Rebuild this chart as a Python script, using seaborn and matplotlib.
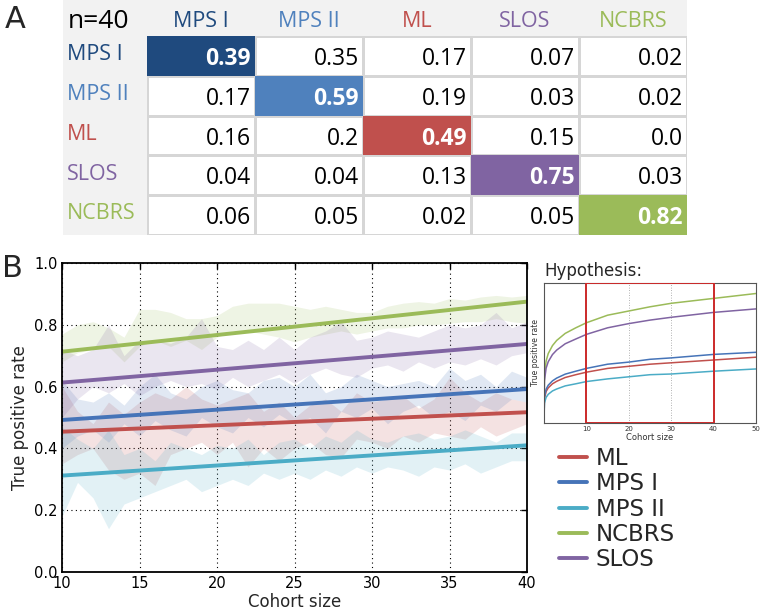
import numpy as np
import pandas as pd
import matplotlib
matplotlib.use('Agg')
import matplotlib.pyplot as plt
from matplotlib.colors import ListedColormap
import seaborn as sns

# panel A: confusion table
classes = ['MPS I', 'MPS II', 'ML', 'SLOS', 'NCBRS']
confusion = [
    [0.39, 0.35, 0.17, 0.07, 0.02],
    [0.17, 0.59, 0.19, 0.03, 0.02],
    [0.16, 0.2, 0.49, 0.15, 0.0],
    [0.04, 0.04, 0.13, 0.75, 0.03],
    [0.06, 0.05, 0.02, 0.05, 0.82],
]
n_label = 'n=40'
table_colors = {'MPS I': '#1f4a7e', 'MPS II': '#4f81bd', 'ML': '#c0504d',
                'SLOS': '#8064a2', 'NCBRS': '#9bbb59'}

# panel B: true positive rate vs cohort size
legend_order = ['ML', 'MPS I', 'MPS II', 'NCBRS', 'SLOS']
line_colors = {'ML': '#c0504d', 'MPS I': '#4674b8', 'MPS II': '#4bacc6',
               'NCBRS': '#9bbb59', 'SLOS': '#8064a2'}
cohort = list(range(10, 41))
band_high = {
    'NCBRS': [0.77, 0.80, 0.81, 0.79, 0.76, 0.85, 0.85, 0.84, 0.82, 0.82, 0.83, 0.86, 0.87, 0.87, 0.87, 0.86,
              0.85, 0.86, 0.85, 0.84, 0.84, 0.86, 0.87, 0.875, 0.87, 0.885, 0.88, 0.89, 0.895, 0.89, 0.895],
    'SLOS': [0.72, 0.70, 0.72, 0.80, 0.70, 0.75, 0.75, 0.74, 0.76, 0.82, 0.73, 0.72, 0.75, 0.72, 0.76, 0.72,
             0.76, 0.78, 0.81, 0.75, 0.76, 0.78, 0.77, 0.76, 0.78, 0.80, 0.79, 0.80, 0.84, 0.79, 0.81],
    'MPS I': [0.62, 0.56, 0.55, 0.58, 0.54, 0.60, 0.64, 0.58, 0.56, 0.60, 0.62, 0.59, 0.58, 0.62, 0.63, 0.60,
              0.64, 0.58, 0.60, 0.64, 0.62, 0.60, 0.61, 0.62, 0.60, 0.66, 0.62, 0.64, 0.60, 0.65, 0.63],
    'ML': [0.60, 0.52, 0.48, 0.55, 0.51, 0.55, 0.58, 0.56, 0.60, 0.56, 0.54, 0.56, 0.58, 0.52, 0.55, 0.50,
           0.54, 0.56, 0.52, 0.58, 0.55, 0.56, 0.57, 0.53, 0.56, 0.63, 0.58, 0.55, 0.58, 0.56, 0.55],
    'MPS II': [0.47, 0.43, 0.40, 0.46, 0.38, 0.40, 0.36, 0.42, 0.40, 0.38, 0.41, 0.40, 0.43, 0.38, 0.42, 0.43,
               0.40, 0.44, 0.42, 0.46, 0.43, 0.42, 0.44, 0.45, 0.43, 0.44, 0.46, 0.44, 0.42, 0.45, 0.45],
}
band_low = {
    'NCBRS': [0.68, 0.71, 0.72, 0.73, 0.68, 0.73, 0.75, 0.73, 0.75, 0.72, 0.76, 0.78, 0.78, 0.77, 0.76, 0.745,
              0.76, 0.77, 0.78, 0.77, 0.78, 0.79, 0.79, 0.80, 0.80, 0.805, 0.81, 0.81, 0.82, 0.81, 0.805],
    'SLOS': [0.50, 0.56, 0.60, 0.58, 0.61, 0.57, 0.60, 0.62, 0.60, 0.61, 0.59, 0.63, 0.60, 0.62, 0.64, 0.61,
             0.64, 0.66, 0.64, 0.63, 0.66, 0.67, 0.65, 0.68, 0.66, 0.68, 0.67, 0.69, 0.67, 0.70, 0.71],
    'MPS I': [0.40, 0.44, 0.46, 0.42, 0.48, 0.44, 0.49, 0.46, 0.44, 0.50, 0.47, 0.45, 0.50, 0.47, 0.51, 0.48,
              0.50, 0.45, 0.52, 0.50, 0.53, 0.48, 0.52, 0.54, 0.50, 0.52, 0.49, 0.54, 0.52, 0.56, 0.55],
    'ML': [0.35, 0.38, 0.40, 0.33, 0.30, 0.32, 0.28, 0.38, 0.40, 0.42, 0.38, 0.42, 0.34, 0.40, 0.36, 0.40,
           0.42, 0.38, 0.37, 0.43, 0.42, 0.40, 0.44, 0.42, 0.45, 0.44, 0.43, 0.47, 0.44, 0.46, 0.48],
    'MPS II': [0.18, 0.29, 0.24, 0.14, 0.22, 0.24, 0.26, 0.28, 0.30, 0.26, 0.28, 0.30, 0.28, 0.32, 0.30, 0.32,
               0.30, 0.33, 0.31, 0.34, 0.32, 0.34, 0.33, 0.31, 0.34, 0.33, 0.35, 0.32, 0.34, 0.36, 0.36],
}
fit_x = [10, 40]
fit_y = {'ML': [0.454, 0.517], 'MPS I': [0.492, 0.592], 'MPS II': [0.312, 0.41],
         'NCBRS': [0.713, 0.875], 'SLOS': [0.613, 0.738]}

# hypothesis inset curves
hyp_x = [0, 0.1, 0.5, 1, 2, 3, 5, 7.5, 10, 15, 20, 25, 30, 40, 50]
hyp_y = {
    'NCBRS': [0, 0.34, 0.443, 0.496, 0.553, 0.59, 0.64, 0.68, 0.716, 0.77, 0.80, 0.83, 0.855, 0.89, 0.925],
    'SLOS': [0, 0.30, 0.392, 0.438, 0.489, 0.521, 0.566, 0.60, 0.633, 0.68, 0.71, 0.735, 0.755, 0.79, 0.815],
    'MPS I': [0, 0.187, 0.242, 0.27, 0.301, 0.321, 0.349, 0.37, 0.39, 0.42, 0.435, 0.455, 0.465, 0.49, 0.505],
    'ML': [0, 0.174, 0.225, 0.251, 0.28, 0.298, 0.325, 0.345, 0.363, 0.39, 0.405, 0.42, 0.43, 0.45, 0.47],
    'MPS II': [0, 0.142, 0.183, 0.205, 0.229, 0.243, 0.265, 0.28, 0.296, 0.315, 0.33, 0.345, 0.35, 0.37, 0.386],
}
hyp_window = [10, 40]

sns.set_style('white')
W, H = 761, 613
fig = plt.figure(figsize=(W / 100, H / 100), dpi=100)

# ---- panel A ----
bg = fig.add_axes([63 / W, 1 - 235 / H, 624 / W, 235 / H])
bg.set_facecolor('#f2f2f2')
bg.set_xticks([])
bg.set_yticks([])
for s in bg.spines.values():
    s.set_visible(False)

ax_t = fig.add_axes([147 / W, 1 - 235 / H, 540 / W, 199 / H])
conf = np.array(confusion)
diag = np.eye(len(classes), dtype=bool)
sns.heatmap(conf, mask=diag, cmap=ListedColormap(['white']), cbar=False,
            linewidths=0.8, linecolor='#d6d6d6', ax=ax_t)
diag_idx = np.where(diag, np.arange(len(classes))[:, None] * 1.0, np.nan)
sns.heatmap(diag_idx, mask=~diag, cmap=ListedColormap([table_colors[c] for c in classes]),
            vmin=-0.5, vmax=len(classes) - 0.5, cbar=False, ax=ax_t)
ax_t.set_xticks([])
ax_t.set_yticks([])

tfont = 'Open Sans'
for i in range(len(classes)):
    for j in range(len(classes)):
        on_diag = i == j
        ax_t.text(j + 0.96, i + 0.58, str(confusion[i][j]), ha='right', va='center',
                  fontsize=16.5, family=tfont, color='white' if on_diag else 'black',
                  fontweight='bold' if on_diag else 'normal')
for k, c in enumerate(classes):
    ax_t.text(k + 0.5, -0.37, c, ha='center', va='center', fontsize=15.5,
              family=tfont, color=table_colors[c], clip_on=False)
    ax_t.text(-0.74, k + 0.47, c, ha='left', va='center', fontsize=15.5,
              family=tfont, color=table_colors[c], clip_on=False)
ax_t.text(-0.735, -0.37, n_label, ha='left', va='center', fontsize=19,
          family=tfont, color='black', clip_on=False)

fig.text(5 / W, 1 - 5 / H, 'A', fontsize=22, ha='left', va='top')
fig.text(2 / W, 1 - 254 / H, 'B', fontsize=22, ha='left', va='top')

# ---- panel B main ----
ax = fig.add_axes([62 / W, 1 - 572 / H, 465 / W, 309 / H])
for c in legend_order:
    ax.fill_between(cohort, band_low[c], band_high[c], color=line_colors[c], alpha=0.16, lw=0)

fit_df = pd.DataFrame([{'cohort': x, 'tpr': y, 'class': c}
                       for c in legend_order for x, y in zip(fit_x, fit_y[c])])
sns.lineplot(data=fit_df, x='cohort', y='tpr', hue='class', hue_order=legend_order,
             palette=line_colors, lw=2.8, legend=False, ax=ax)
handles = ax.lines[:len(legend_order)]

ax.set_xlim(10, 40)
ax.set_ylim(0, 1)
ax.set_xticks(range(10, 41, 5))
ax.set_yticks(np.arange(0, 1.01, 0.2))
ax.set_yticklabels([f'{v:.1f}' for v in np.arange(0, 1.01, 0.2)])
ax.grid(True, color='black', linestyle=(0, (1, 3)), linewidth=0.8)
ax.tick_params(direction='in', length=4, width=1, top=True, right=True,
               labelsize=10.5, colors='black', pad=3)
for s in ax.spines.values():
    s.set_linewidth(1.3)
    s.set_color('black')
ax.set_xlabel('Cohort size', fontsize=12, labelpad=1)
ax.set_ylabel('True positive rate', fontsize=12, labelpad=4)

# ---- hypothesis inset ----
ax_h = fig.add_axes([544 / W, 1 - 423 / H, 212 / W, 140 / H])
hyp_df = pd.DataFrame([{'cohort': x, 'tpr': y, 'class': c}
                       for c in legend_order for x, y in zip(hyp_x, hyp_y[c])])
sns.lineplot(data=hyp_df, x='cohort', y='tpr', hue='class', hue_order=legend_order,
             palette=line_colors, lw=1.1, legend=False, ax=ax_h)
ax_h.axvspan(hyp_window[0], hyp_window[1], fill=False, edgecolor='#cc2a2a', lw=1.4, zorder=5)
ax_h.set_xlim(0, 50)
ax_h.set_ylim(0, 1)
ax_h.set_xticks([10, 20, 30, 40, 50])
ax_h.set_yticks([])
ax_h.grid(True, axis='x', color='#999999', linestyle=(0, (1, 2)), linewidth=0.6)
ax_h.tick_params(labelsize=5, length=0, pad=2, colors='#333333')
for s in ax_h.spines.values():
    s.set_linewidth(0.8)
    s.set_color('#555555')
ax_h.set_xlabel('Cohort size', fontsize=6, labelpad=1, color='#333333')
ax_h.set_ylabel('True positive rate', fontsize=5.5, labelpad=3, color='#333333')
ax_h.set_title('Hypothesis:', loc='left', fontsize=12, pad=5)

fig.legend(handles, legend_order, loc='upper left', bbox_to_anchor=(559 / W, 1 - 447 / H),
           frameon=False, fontsize=16.5, handlelength=1.2, handletextpad=0.4,
           labelspacing=0.1, borderpad=0, borderaxespad=0)

fig.savefig('out.png', dpi=100)
